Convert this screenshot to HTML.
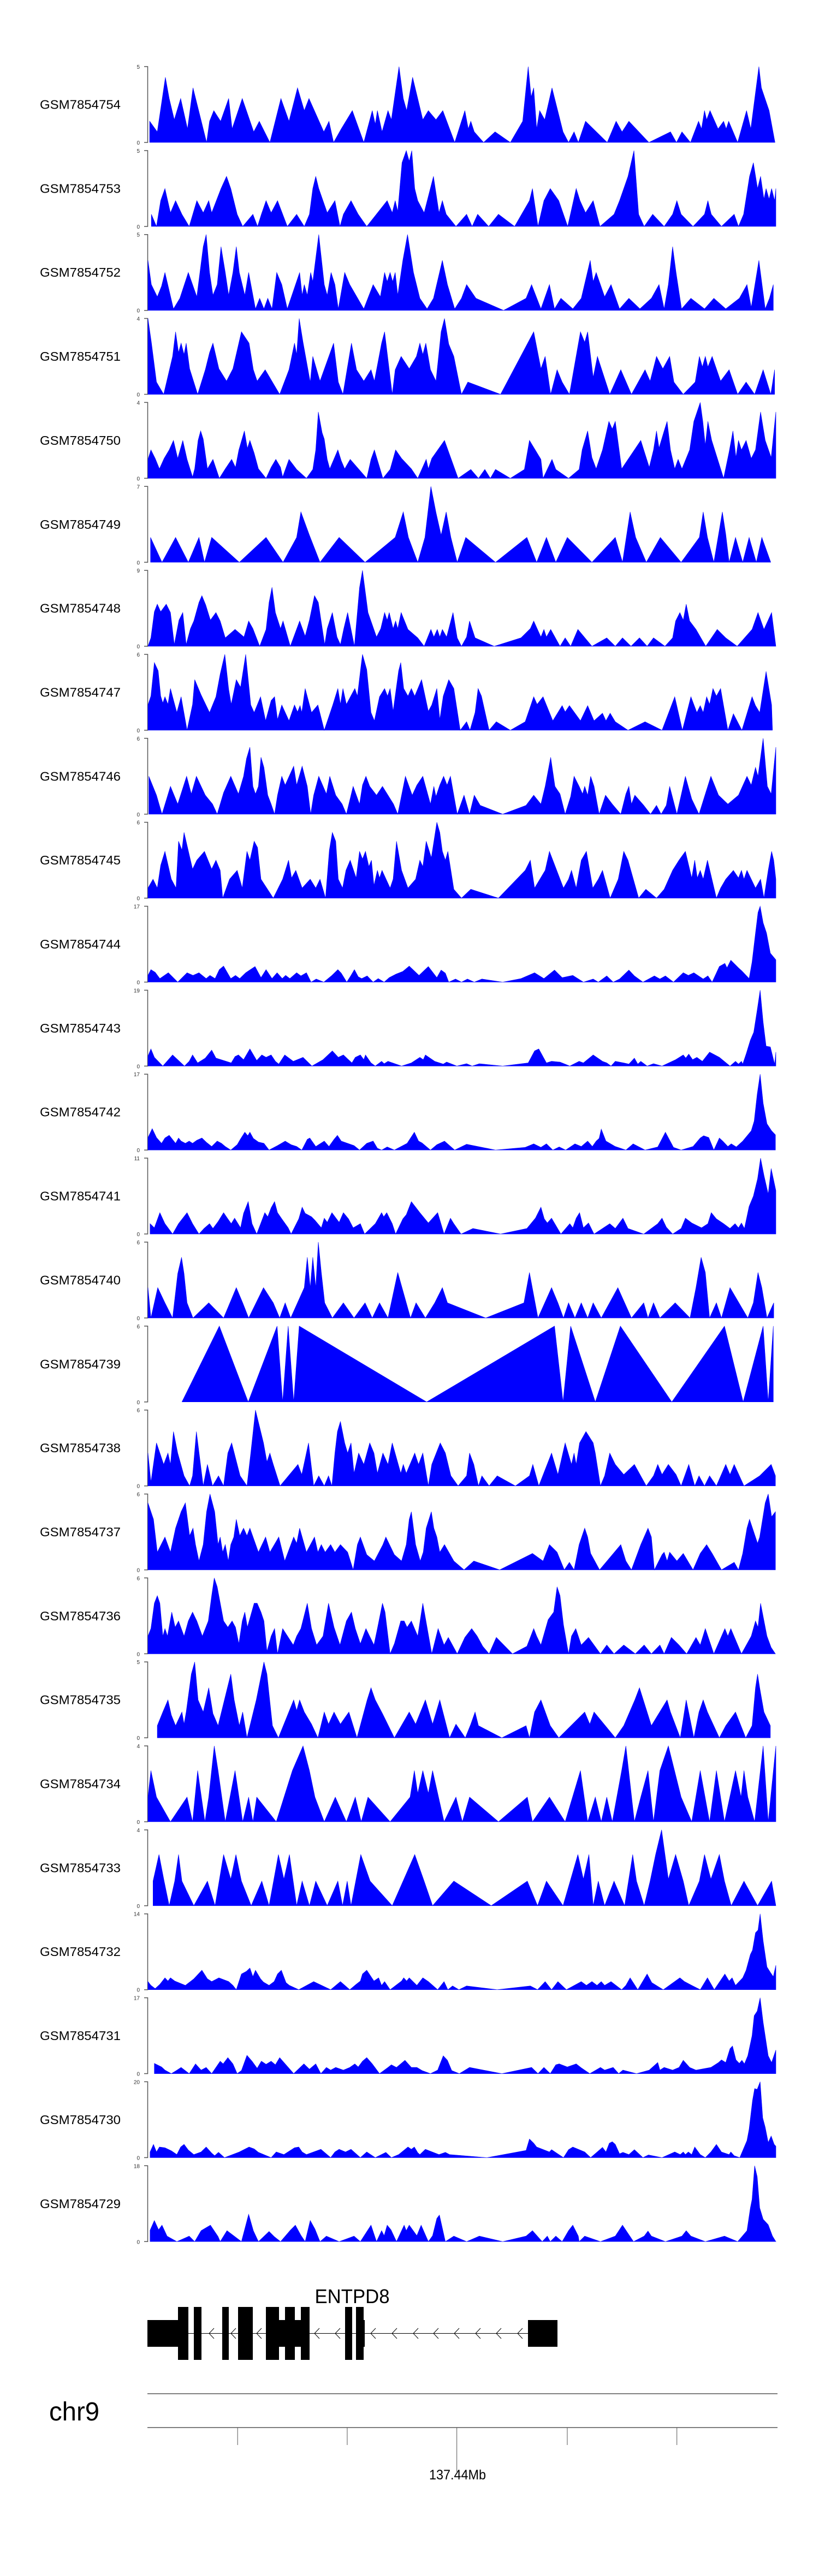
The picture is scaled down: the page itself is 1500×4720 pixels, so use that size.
<!DOCTYPE html>
<html><head><meta charset="utf-8">
<style>
html,body{margin:0;padding:0;background:#fff;}
svg{display:block;}
text{font-family:"Liberation Sans",Arial,sans-serif;}
</style></head>
<body>
<svg id="chart" width="1500" height="4720" viewBox="0 0 1500 4720" xmlns="http://www.w3.org/2000/svg">
<g id="tracks"></g>
<g id="gene">
  <text x="645" y="4220" font-size="36" text-anchor="middle" textLength="137" lengthAdjust="spacingAndGlyphs">ENTPD8</text>
  <line x1="270" y1="4275.5" x2="967" y2="4275.5" stroke="#000" stroke-width="1"/>
  <g fill="none" stroke="#000" stroke-width="1" id="chev"></g>
  <rect x="270" y="4251" width="56" height="49" fill="#000"/>
  <rect x="326" y="4227" width="19" height="97" fill="#000"/>
  <rect x="355" y="4227" width="14" height="97" fill="#000"/>
  <rect x="407" y="4227" width="12" height="97" fill="#000"/>
  <rect x="436" y="4227" width="27" height="97" fill="#000"/>
  <rect x="487" y="4251" width="80" height="49" fill="#000"/>
  <rect x="487" y="4227" width="24" height="97" fill="#000"/>
  <rect x="522" y="4227" width="18" height="97" fill="#000"/>
  <rect x="551" y="4227" width="16" height="97" fill="#000"/>
  <rect x="632" y="4227" width="13" height="97" fill="#000"/>
  <rect x="652" y="4227" width="14" height="97" fill="#000"/>
  <rect x="652" y="4251" width="16" height="49" fill="#000"/>
  <rect x="967" y="4251" width="54" height="49" fill="#000"/>
</g>
<g id="ideo">
  <text x="90" y="4435" font-size="48" textLength="92" lengthAdjust="spacingAndGlyphs">chr9</text>
  <line x1="270" y1="4386" x2="1424" y2="4386" stroke="#555" stroke-width="1.5"/>
  <line x1="270" y1="4448" x2="1424" y2="4448" stroke="#555" stroke-width="1.5"/>
  <g id="gticks"></g>
  <text x="838" y="4543" font-size="25" text-anchor="middle" textLength="104" lengthAdjust="spacingAndGlyphs">137.44Mb</text>
</g>
</svg>
<script>
const sampleNames = ["GSM7854754","GSM7854753","GSM7854752","GSM7854751","GSM7854750","GSM7854749","GSM7854748","GSM7854747","GSM7854746","GSM7854745","GSM7854744","GSM7854743","GSM7854742","GSM7854741","GSM7854740","GSM7854739","GSM7854738","GSM7854737","GSM7854736","GSM7854735","GSM7854734","GSM7854733","GSM7854732","GSM7854731","GSM7854730","GSM7854729"];
const trackMax = [5,5,5,4,4,7,9,6,6,6,17,19,17,11,6,6,6,6,6,5,4,4,14,17,20,18];
const genomeDomain = [40,1518];
const genomeTicks = [251,509,767,1027,1285];

const s754=[[44,1.4],[62,.7],[81,4.3],[90,2.9],[102,1.5],[117,2.9],[133,.9],[146,3.6],[178,0],[185,1.4],[195,2.1],[211,1.4],[230,2.9],[238,.9],[262,2.9],[289,.7],[302,1.4],[327,0],[353,2.9],[372,1.4],[392,3.6],[408,2.1],[419,2.9],[454,.7],[466,1.4],[477,0],[495,.9],[521,2.1],[548,0],[568,2.1],[575,1.2],[580,2.1],[591,.7],[605,2.1],[613,1.5],[631,5],[641,2.9],[649,2.1],[663,4.3],[687,1.5],[700,2.1],[718,1.5],[734,2.1],[762,0],[786,2.1],[794,.9],[800,1.4],[808,.7],[830,0],[857,.7],[893,0],[922,1.4],[935,5],[942,3.0],[948,3.6],[955,.9],[962,2.1],[974,1.5],[991,3.6],[1017,.7],[1030,0],[1043,.7],[1053,0],[1070,1.4],[1121,0],[1142,1.4],[1156,.7],[1172,1.4],[1219,0],[1270,.7],[1284,0],[1297,.7],[1317,0],[1336,1.4],[1343,.9],[1350,2.1],[1355,1.5],[1363,2.1],[1382,.9],[1395,1.4],[1401,.9],[1407,1.4],[1428,0],[1449,2.1],[1459,.9],[1478,5],[1484,3.6],[1502,2.1],[1516,0]];
const s753=[[48,.8],[60,0],[70,1.7],[80,2.5],[93,.9],[105,1.7],[120,.8],[137,0],[155,1.7],[170,.9],[183,1.7],[190,.9],[212,2.5],[225,3.3],[235,2.5],[250,.8],[263,0],[287,.8],[298,0],[307,.8],[318,1.7],[330,.9],[345,1.7],[368,0],[390,.8],[408,0],[420,.8],[428,2.5],[435,3.3],[442,2.5],[462,.9],[480,1.7],[492,0],[500,.8],[518,1.7],[535,.8],[555,0],[603,1.7],[615,.9],[622,1.7],[628,1.0],[638,4.2],[648,5],[655,4.3],[661,5],[668,2.5],[675,1.7],[690,.9],[712,3.3],[725,.9],[733,1.7],[742,.8],[765,0],[790,.8],[803,0],[816,.8],[842,0],[865,.8],[903,0],[938,1.7],[945,2.5],[958,0],[972,1.7],[987,2.5],[1007,1.7],[1028,0],[1048,2.5],[1057,1.7],[1070,.9],[1088,1.7],[1104,0],[1137,.8],[1150,1.7],[1170,3.3],[1184,5],[1195,.8],[1208,0],[1228,.8],[1255,0],[1275,.8],[1285,1.7],[1295,.8],[1323,0],[1350,.8],[1358,1.7],[1366,.8],[1390,0],[1420,.8],[1430,0],[1442,.8],[1456,3.3],[1465,4.2],[1475,2.5],[1482,3.3],[1490,1.8],[1495,2.5],[1502,1.8],[1508,2.5],[1515,1.7],[1518,2.5]];
const s752=[[40,3.3],[48,1.7],[62,.9],[72,1.6],[80,2.5],[100,.1],[115,.8],[135,2.5],[155,.9],[170,4.2],[177,5],[185,2.5],[193,1.0],[203,1.7],[212,4.2],[222,2.5],[230,1.0],[240,2.5],[248,4.2],[255,2.5],[268,1.0],[277,2.5],[293,.1],[303,.8],[313,.1],[322,.8],[332,.1],[343,2.5],[355,1.7],[368,.1],[397,2.5],[403,1.0],[408,1.7],[415,1.0],[423,2.5],[428,1.9],[442,5],[455,1.7],[462,1.0],[471,2.5],[480,1.7],[488,.1],[503,2.5],[515,1.7],[548,.1],[570,1.7],[587,.9],[597,2.5],[603,1.9],[610,2.5],[616,1.9],[622,2.5],[628,1.0],[640,3.3],[651,5],[665,2.5],[680,.8],[697,.1],[712,.8],[733,3.3],[745,1.7],[762,.1],[778,.8],[790,1.7],[812,.8],[877,0],[930,.8],[943,1.7],[965,.1],[985,1.7],[997,.1],[1012,.8],[1040,.1],[1060,.8],[1081,3.3],[1088,1.9],[1095,2.5],[1115,.9],[1130,1.7],[1150,.1],[1172,.8],[1198,.1],[1225,.8],[1243,1.7],[1255,.1],[1265,1.7],[1275,4.2],[1283,2.5],[1296,.1],[1318,.8],[1350,.1],[1372,.8],[1400,.1],[1432,.8],[1450,1.7],[1460,.2],[1478,3.3],[1493,.1],[1503,.8],[1512,1.7]];
const s751=[[40,4],[48,2.75],[60,.65],[77,0],[98,2.0],[105,3.3],[112,2.2],[118,2.7],[125,2.1],[130,2.7],[138,1.35],[157,0],[175,1.3],[185,2.2],[193,2.7],[207,1.35],[225,.7],[240,1.35],[260,3.3],[278,2.7],[288,1.3],[297,.7],[316,1.3],[350,0],[372,1.3],[385,2.7],[390,2.1],[396,4],[405,2.75],[422,.65],[428,2.0],[445,.7],[477,2.7],[488,.65],[499,0],[519,2.7],[531,1.3],[548,.7],[565,1.3],[573,.7],[590,2.7],[597,3.3],[615,0],[622,1.3],[636,2.0],[655,1.35],[672,2.0],[680,2.7],[687,2.1],[694,2.7],[705,1.3],[718,.7],[730,3.3],[738,4],[748,2.65],[760,2.0],[778,0],[793,.65],[870,0],[948,3.3],[965,1.35],[975,2.0],[988,0],[1003,1.3],[1015,.65],[1032,0],[1058,3.3],[1068,2.75],[1075,3.3],[1088,.9],[1098,2.0],[1127,0],[1153,1.3],[1178,0],[1210,1.3],[1222,.7],[1237,2.0],[1252,1.35],[1268,2.0],[1278,.65],[1300,0],[1328,.65],[1338,2.0],[1345,1.45],[1352,2.0],[1358,1.45],[1368,2.0],[1388,.7],[1408,1.3],[1428,0],[1448,.65],[1468,0],[1488,1.3],[1506,0],[1515,1.3]];
const s750=[[40,1.0],[47,1.5],[57,1.05],[67,.5],[78,1.05],[90,1.5],[100,2],[110,1.05],[122,2],[132,1.0],[145,.07],[150,.5],[158,2],[164,2.5],[170,2.07],[180,.5],[193,1],[208,0],[222,.5],[237,1],[246,.58],[254,1.5],[267,2.5],[274,1.58],[280,2],[290,1.33],[300,.5],[318,0],[330,.58],[341,1],[352,.58],[357,.07],[372,1],[390,.47],[413,0],[428,.47],[435,1.5],[441,3.5],[450,2.4],[455,2.07],[462,1],[468,.5],[487,1.5],[495,.93],[503,.5],[516,1],[555,0],[565,1],[573,1.5],[593,0],[610,.47],[623,1.5],[637,1.05],[660,.5],[675,0],[695,1],[700,.5],[708,1.05],[738,2],[770,0],[800,.47],[818,0],[833,.47],[846,0],[858,.47],[893,0],[926,.47],[938,2],[965,1],[970,0],[991,1],[1000,.47],[1030,0],[1055,.47],[1062,1.5],[1075,2.5],[1085,1.1],[1095,.5],[1110,1.5],[1115,2],[1125,3],[1133,2.6],[1140,3],[1155,.5],[1200,2],[1220,.58],[1230,1.5],[1237,2.5],[1243,1.6],[1255,2.5],[1262,3],[1270,1.5],[1280,.5],[1288,1],[1297,.5],[1315,1.5],[1325,3],[1340,4],[1346,3],[1352,1.75],[1358,3],[1367,2],[1395,0],[1408,1.4],[1417,2.5],[1424,1.1],[1430,2],[1437,1.5],[1448,2],[1460,1.05],[1470,1.5],[1482,3.5],[1493,2],[1507,1.1],[1518,3.5]];
const s749=[[46,2.3],[73,0],[105,2.3],[135,0],[160,2.3],[173,0],[190,2.3],[255,0],[318,2.3],[358,0],[390,2.3],[400,4.65],[420,2.5],[445,0],[490,2.3],[551,0],[622,2.3],[641,4.65],[653,2.3],[675,0],[692,2.3],[706,7],[718,4.6],[730,2.5],[742,4.65],[753,2.3],[768,0],[788,2.3],[858,0],[932,2.3],[955,0],[978,2.3],[1000,0],[1027,2.3],[1085,0],[1140,2.3],[1157,0],[1175,4.65],[1188,2.3],[1213,0],[1246,2.3],[1295,0],[1338,2.3],[1347,4.65],[1357,2.3],[1372,0],[1392,4.65],[1400,2.6],[1408,0],[1423,2.3],[1440,0],[1455,2.3],[1472,0],[1485,2.3],[1506,0]];
const s748=[[40,0],[47,1.0],[55,4.1],[62,5.0],[70,4.1],[83,5.0],[93,4.0],[102,.2],[113,3.1],[122,4.0],[130,.2],[140,2.1],[148,3.0],[160,5.2],[167,6.0],[176,4.9],[187,3.1],[200,4.0],[210,3.0],[222,1.0],[245,2.0],[266,1.1],[277,3.0],[287,2.1],[303,0],[318,2.0],[325,5.2],[332,7.0],[340,4.0],[352,2.1],[358,3.0],[375,0],[397,3.0],[410,1.2],[420,3.1],[432,6.0],[441,5.2],[456,.2],[462,2.1],[474,4.0],[485,1.1],[493,.2],[501,2.1],[510,4.0],[518,2.0],[526,0],[538,6.96],[545,9],[558,4.0],[578,1.1],[588,2.1],[597,4.0],[603,3.1],[608,4.0],[617,2.1],[623,3.0],[628,2.1],[636,4.0],[652,2.0],[675,1.0],[690,0],[706,2.0],[713,1.1],[721,2.0],[727,1.1],[733,2.0],[743,1.1],[758,4.0],[768,1.0],[778,0],[790,1.1],[797,3.0],[810,1.0],[855,0],[918,1.0],[940,2.1],[948,3.0],[965,1.1],[972,2.0],[978,1.1],[988,2.0],[1010,0],[1022,1.0],[1035,0],[1052,2.0],[1085,0],[1120,1.0],[1140,0],[1157,1.0],[1177,0],[1197,1.0],[1215,0],[1230,1.0],[1257,0],[1275,1.0],[1282,3.0],[1292,4.0],[1300,3.1],[1307,5.0],[1315,3.0],[1330,2.0],[1353,0],[1380,2.0],[1400,1.0],[1427,0],[1462,2.0],[1476,4.0],[1490,2.0],[1508,4.0],[1518,0]];
const s747=[[40,2.0],[47,2.7],[55,5.35],[64,4.7],[70,2.7],[75,2.15],[80,2.65],[87,2.05],[93,3.3],[100,2.4],[108,1.4],[118,2.65],[132,0],[145,2.05],[150,4.0],[165,2.8],[185,1.4],[200,2.65],[210,4.45],[216,5.3],[221,6],[230,3.25],[236,2.05],[248,4.0],[258,3.4],[270,6],[282,2.0],[290,1.4],[305,2.65],[317,.75],[330,2.35],[338,2.65],[345,.85],[355,2.0],[372,.75],[385,2.0],[392,1.45],[398,1.95],[402,1.4],[410,3.3],[425,1.4],[440,2.0],[455,0],[475,2.0],[487,3.3],[493,2.05],[499,3.3],[507,2.05],[527,3.3],[533,2.7],[541,4.95],[545,6],[555,4.8],[565,1.4],[573,.75],[585,2.65],[597,3.3],[604,2.7],[610,3.3],[617,1.5],[630,4.7],[635,5.35],[642,3.3],[652,2.7],[660,3.3],[668,2.7],[684,4.0],[700,1.5],[708,2.0],[720,3.3],[727,.85],[735,2.7],[748,4.0],[760,3.3],[775,0],[790,.67],[798,0],[810,1.4],[817,3.3],[825,2.7],[843,0],[860,.67],[893,0],[928,.67],[948,2.65],[956,2.05],[970,2.65],[993,.75],[1015,1.95],[1022,1.45],[1032,1.95],[1058,.75],[1075,1.95],[1090,.75],[1110,1.35],[1118,.75],[1128,1.35],[1140,.67],[1170,0],[1210,.67],[1250,0],[1280,2.65],[1298,0],[1318,2.65],[1332,1.4],[1340,1.95],[1347,1.4],[1355,2.65],[1362,2.05],[1370,3.3],[1378,2.7],[1388,3.3],[1405,0],[1418,1.3],[1438,0],[1462,2.65],[1470,1.95],[1480,1.4],[1495,4.65],[1508,2.0],[1510,0]];
const s746=[[42,3.0],[60,1.5],[73,0],[93,2.2],[110,.8],[131,3.0],[142,1.6],[154,3.0],[175,1.5],[192,.8],[203,0],[218,1.7],[235,3.0],[253,1.6],[265,3.0],[272,4.4],[280,5.3],[287,2.2],[293,1.6],[300,2.2],[306,4.5],[313,3.7],[322,1.5],[330,.8],[338,0],[345,1.5],[355,3.0],[363,2.3],[383,3.8],[390,2.3],[403,3.8],[415,2.2],[423,0],[430,1.5],[442,3.0],[460,1.6],[468,3.0],[482,1.5],[497,.8],[507,0],[523,2.2],[538,.8],[545,2.3],[553,3.0],[562,2.2],[578,1.5],[592,2.2],[605,1.5],[618,.8],[628,0],[637,1.5],[646,3.0],[662,1.5],[673,2.3],[687,3.0],[705,.8],[713,2.2],[718,1.4],[727,2.3],[736,3.0],[744,2.3],[752,3.0],[768,0],[784,1.5],[797,0],[808,1.5],[822,.7],[875,0],[930,.7],[948,1.5],[965,.8],[975,2.2],[988,4.5],[998,2.2],[1010,1.6],[1022,0],[1035,1.4],[1043,3.0],[1055,2.2],[1063,1.6],[1068,2.2],[1075,1.5],[1082,3.0],[1090,2.2],[1102,0],[1117,1.5],[1133,.8],[1153,0],[1165,1.6],[1172,2.2],[1178,.8],[1186,1.5],[1207,.7],[1223,0],[1237,.7],[1248,0],[1260,.7],[1268,2.2],[1285,0],[1305,3.0],[1320,1.2],[1337,0],[1352,1.6],[1365,3.0],[1383,1.5],[1405,.8],[1430,1.5],[1450,3.0],[1460,2.3],[1470,3.7],[1476,3.0],[1488,6.0],[1498,2.2],[1507,1.6],[1518,5.3]];
const s745=[[40,.8],[52,1.5],[62,.8],[70,2.6],[80,3.7],[95,1.5],[106,.8],[112,4.5],[120,3.8],[125,5.2],[145,2.3],[155,3.0],[173,3.7],[190,2.3],[200,3.0],[210,2.2],[216,0],[232,1.5],[250,2.2],[262,.8],[273,3.7],[280,3.0],[290,4.5],[298,4.0],[306,1.5],[335,0],[357,1.5],[371,3.0],[378,1.6],[388,2.2],[403,.8],[422,1.5],[435,.8],[445,1.5],[458,0],[467,3.8],[474,5.2],[482,4.5],[488,1.5],[498,.8],[506,2.2],[516,3.0],[530,1.6],[538,3.7],[545,3.1],[552,3.7],[560,2.5],[566,3.0],[572,1.0],[580,2.2],[585,1.6],[591,2.2],[610,.8],[617,1.5],[625,4.5],[637,2.2],[652,.8],[670,1.5],[680,3.0],[687,2.5],[695,4.5],[707,3.2],[720,6.0],[727,5.2],[733,3.7],[740,3.0],[746,3.7],[760,.7],[778,0],[800,.7],[865,0],[928,2.2],[940,3.0],[950,.8],[975,2.2],[985,3.7],[993,3.0],[1018,.8],[1030,1.5],[1037,2.2],[1048,.8],[1060,3.0],[1072,3.7],[1087,.8],[1100,1.5],[1110,2.2],[1128,0],[1147,1.5],[1160,3.7],[1170,3.0],[1195,0],[1212,.7],[1237,0],[1255,.7],[1275,2.2],[1290,3.0],[1305,3.7],[1320,1.6],[1327,3.0],[1333,1.6],[1340,2.2],[1347,1.5],[1357,3.0],[1378,0],[1388,.8],[1400,1.5],[1418,2.2],[1430,1.6],[1437,2.2],[1443,1.5],[1450,2.2],[1470,.8],[1482,1.5],[1490,0],[1500,2.2],[1508,3.7],[1513,3.0],[1518,1.5]];
const s744=[[40,1.5],[47,2.8],[57,2.2],[68,.8],[88,2.1],[110,0],[132,2.1],[146,1.5],[160,2.1],[177,.8],[186,1.5],[198,.8],[208,2.8],[218,3.6],[235,.8],[246,1.5],[256,.8],[270,2.1],[292,3.5],[306,1.0],[318,2.8],[332,.8],[344,2.1],[356,.8],[364,1.5],[374,.8],[390,2.1],[400,1.4],[413,2.1],[424,0],[436,.7],[454,0],[473,1.5],[487,2.8],[495,2.0],[508,0],[518,1.5],[526,2.8],[535,1.2],[543,.8],[556,1.4],[570,0],[582,.8],[596,0],[608,1.0],[624,1.8],[640,2.4],[655,3.6],[678,1.5],[700,3.5],[720,1.0],[730,2.7],[740,2.0],[748,0],[764,.7],[778,0],[792,.7],[808,0],[826,.7],[875,0],[918,.8],[950,2.1],[972,.8],[997,2.7],[1015,1.0],[1040,1.5],[1065,0],[1088,.7],[1100,0],[1120,1.4],[1135,0],[1150,.7],[1172,2.7],[1185,1.4],[1205,0],[1232,1.4],[1245,.7],[1258,1.4],[1277,0],[1300,2.1],[1312,1.5],[1325,2.1],[1347,.7],[1358,1.4],[1368,0],[1385,3.5],[1398,4.2],[1403,3.2],[1412,4.9],[1430,3.2],[1438,2.5],[1455,.8],[1462,4.5],[1470,11],[1476,15.6],[1481,17],[1488,13.3],[1496,11],[1505,6.5],[1518,5.0]];
const s743=[[40,2.5],[47,4.3],[55,2.2],[75,0],[98,2.8],[126,0],[137,1.2],[145,2.8],[157,.8],[175,2.0],[190,4.0],[200,2.0],[236,.8],[245,2.4],[253,2.8],[265,1.6],[280,4.3],[296,1.4],[308,2.8],[318,2.2],[330,2.8],[340,1.2],[348,.5],[362,2.8],[382,1.2],[405,2.2],[426,0],[452,1.6],[474,3.8],[488,2.2],[500,2.8],[520,.8],[528,2.2],[540,2.8],[548,1.6],[552,2.8],[565,.8],[575,0],[590,1.2],[596,.6],[605,1.2],[637,0],[660,.8],[680,2.2],[688,1.6],[693,2.8],[715,1.2],[735,.5],[743,1.0],[767,0],[790,.6],[803,0],[820,.6],[875,0],[935,.8],[950,3.8],[960,4.3],[978,.8],[990,1.2],[1010,1.0],[1033,0],[1055,1.2],[1065,.8],[1088,2.8],[1110,1.2],[1120,.8],[1130,0],[1140,1.2],[1160,.8],[1172,.5],[1185,2.0],[1193,.5],[1200,1.2],[1215,0],[1230,.6],[1250,0],[1282,1.6],[1300,2.8],[1306,2.0],[1313,3.0],[1322,1.6],[1332,2.2],[1345,1.2],[1362,3.5],[1385,2.2],[1410,0],[1423,1.2],[1430,.5],[1437,1.2],[1440,.5],[1448,3.0],[1458,6.5],[1466,8.5],[1474,14],[1481,19],[1488,11],[1495,5.0],[1505,4.8],[1515,.5],[1518,3.5]];
const s742=[[40,2.8],[50,4.8],[60,2.8],[72,1.5],[80,2.7],[90,3.3],[105,1.5],[112,2.7],[118,2.0],[128,1.5],[137,2.0],[145,1.5],[155,2.2],[167,2.7],[178,1.7],[190,.8],[203,2.0],[213,1.5],[222,.8],[235,0],[250,1.2],[258,2.5],[268,4.0],[275,3.2],[280,4.0],[288,2.6],[300,1.8],[313,1.5],[325,0],[345,1.0],[363,2.0],[377,1.2],[390,.8],[402,0],[415,2.4],[421,2.7],[435,.8],[455,2.0],[466,.8],[478,2.4],[486,3.3],[495,2.0],[510,1.5],[525,1.0],[538,0],[555,1.5],[570,2.0],[580,.4],[590,0],[603,.7],[620,0],[650,1.5],[667,4.0],[677,2.0],[685,1.6],[705,0],[720,1.2],[738,2.0],[762,0],[790,1.3],[858,0],[928,.6],[948,1.4],[965,.6],[978,1.4],[993,0],[1008,.7],[1023,0],[1045,1.4],[1060,.8],[1075,2.0],[1086,.8],[1095,2.0],[1102,2.6],[1107,4.7],[1118,2.0],[1140,.8],[1165,0],[1182,1.4],[1210,0],[1240,.7],[1258,4.0],[1277,.6],[1295,0],[1323,.8],[1340,2.7],[1348,3.2],[1360,2.8],[1372,0],[1385,2.7],[1393,2.0],[1405,.8],[1413,1.4],[1425,.7],[1440,2.0],[1460,4.3],[1467,6.5],[1474,12.5],[1481,17],[1488,10.5],[1497,5.9],[1508,4.3],[1517,3.4]];
const s741=[[45,1.5],[55,.9],[68,3.1],[80,1.5],[98,0],[112,1.5],[132,3.1],[145,1.5],[160,0],[172,.8],[185,1.5],[193,.8],[205,1.8],[218,3.1],[228,2.2],[236,1.5],[244,2.3],[258,.9],[265,3.0],[276,4.7],[285,1.5],[296,0],[315,3.1],[322,2.5],[330,3.8],[338,4.7],[345,3.1],[355,2.2],[370,.9],[377,0],[395,2.2],[403,3.9],[410,3.0],[425,2.5],[433,2.0],[448,.9],[455,2.3],[462,1.7],[473,3.1],[490,1.7],[500,3.1],[512,2.2],[523,.9],[540,1.5],[550,0],[575,1.5],[590,3.1],[595,2.5],[602,3.1],[615,1.5],[623,0],[640,2.2],[648,2.8],[660,4.7],[680,3.1],[700,1.6],[722,3.1],[737,0],[752,2.3],[760,1.5],[777,0],[805,.8],[870,0],[932,.8],[952,2.3],[965,3.9],[973,2.2],[980,1.6],[990,2.3],[1012,0],[1033,1.5],[1040,.9],[1048,2.3],[1056,3.1],[1065,.9],[1077,1.6],[1090,0],[1127,1.5],[1140,.8],[1158,2.3],[1170,.8],[1207,0],[1240,1.5],[1250,2.3],[1260,1.0],[1275,0],[1295,.8],[1305,2.3],[1320,1.6],[1343,.9],[1358,1.5],[1366,3.1],[1378,2.2],[1395,1.5],[1410,.8],[1422,1.5],[1430,.9],[1437,1.6],[1444,.8],[1455,4.0],[1465,5.5],[1475,8.0],[1482,11],[1490,8.5],[1500,5.8],[1507,9.5],[1518,6.3]];
const s740=[[40,2.4],[47,0],[63,2.4],[80,1.2],[98,0],[110,3.5],[119,4.8],[125,3.5],[132,1.2],[146,0],[183,1.2],[218,0],[248,2.4],[263,1.2],[277,0],[312,2.4],[335,1.2],[350,0],[363,1.2],[376,0],[408,2.4],[415,4.8],[422,2.4],[428,4.8],[435,2.4],[441,6.0],[448,3.6],[456,1.2],[474,0],[500,1.2],[525,0],[551,1.2],[568,0],[585,1.2],[605,0],[628,3.6],[648,1.2],[658,0],[671,1.2],[693,0],[715,1.2],[733,2.4],[745,1.2],[835,0],[925,1.2],[938,3.6],[958,0],[990,2.4],[1005,1.2],[1018,0],[1030,1.2],[1045,0],[1060,1.2],[1075,0],[1088,1.2],[1107,0],[1146,2.4],[1178,0],[1207,1.2],[1217,0],[1230,1.2],[1245,0],[1281,1.2],[1316,0],[1330,2.4],[1342,4.8],[1352,3.6],[1362,0],[1378,1.2],[1390,0],[1410,2.4],[1452,0],[1465,1.2],[1476,3.6],[1485,2.4],[1497,0],[1513,1.2]];
const s739=[[120,0],[208,6],[276,0],[344,6],[357,0],[370,6],[383,0],[396,6],[696,0],[997,6],[1017,0],[1035,6],[1093,0],[1152,6],[1273,0],[1397,6],[1441,0],[1488,6],[1500,0],[1512,6]];
const s738=[[40,2.6],[47,.3],[60,3.4],[77,1.7],[87,2.6],[93,1.7],[100,4.3],[110,2.6],[125,.8],[138,0],[145,.8],[154,4.3],[170,0],[180,1.7],[192,0],[206,.8],[218,0],[228,2.6],[237,3.4],[257,.8],[273,0],[282,2.6],[293,6],[312,3.4],[320,1.9],[327,2.6],[335,1.7],[351,0],[393,1.7],[402,.9],[418,3.4],[430,0],[442,.8],[455,0],[465,.8],[473,0],[480,2.6],[486,4.3],[493,5.1],[503,3.4],[510,2.6],[518,3.4],[525,1.0],[536,2.6],[548,1.7],[562,3.4],[572,2.6],[580,1.0],[593,2.6],[605,1.7],[615,3.4],[635,1.0],[641,1.7],[648,1.0],[668,2.6],[677,1.7],[687,2.6],[700,0],[708,1.7],[728,3.4],[740,2.6],[753,.8],[770,0],[790,.8],[797,2.6],[807,1.7],[818,0],[826,.8],[843,0],[862,.8],[905,0],[938,.8],[946,1.7],[960,0],[990,2.6],[1005,.9],[1022,3.4],[1037,1.7],[1043,2.6],[1048,1.7],[1056,3.4],[1071,4.3],[1088,3.4],[1093,2.6],[1105,0],[1115,.8],[1127,2.6],[1140,1.7],[1160,.9],[1185,1.7],[1213,0],[1230,.8],[1240,1.7],[1250,.9],[1265,1.7],[1283,.9],[1295,0],[1313,1.7],[1327,0],[1337,.8],[1350,0],[1362,.8],[1378,0],[1400,1.7],[1410,.9],[1420,1.7],[1443,0],[1480,.8],[1507,1.7],[1517,.8]];
const s737=[[40,5.3],[47,4.6],[53,4.0],[62,1.4],[80,2.6],[93,1.4],[105,3.3],[118,4.6],[128,5.3],[138,2.7],[146,3.3],[152,2.0],[160,.7],[170,2.0],[178,4.6],[186,6.0],[197,4.6],[205,2.0],[210,2.6],[216,1.4],[222,2.0],[229,.7],[235,2.0],[242,2.6],[248,4.0],[256,2.7],[265,3.3],[273,2.7],[280,3.3],[300,1.4],[317,2.6],[327,1.4],[348,2.6],[362,.7],[383,2.6],[390,2.1],[397,3.3],[413,1.4],[432,2.6],[440,1.4],[448,2.0],[457,1.4],[470,2.0],[480,1.4],[493,2.0],[510,1.4],[523,0],[533,2.0],[540,2.6],[555,1.2],[573,.7],[593,2.0],[600,2.6],[620,1.2],[637,.7],[648,2.0],[655,4.0],[660,4.6],[670,2.0],[681,.7],[688,1.4],[695,3.3],[707,4.6],[713,3.3],[720,2.6],[727,1.4],[738,2.0],[760,.7],[784,0],[807,.7],[868,0],[945,1.3],[970,.7],[985,2.0],[1003,1.4],[1020,0],[1032,.6],[1043,0],[1055,2.0],[1068,3.3],[1075,2.6],[1082,1.3],[1103,0],[1153,2.0],[1165,.7],[1178,0],[1200,2.0],[1217,3.3],[1225,2.6],[1232,0],[1250,1.2],[1255,1.4],[1262,.7],[1268,1.4],[1285,.7],[1300,1.3],[1323,0],[1340,1.3],[1355,2.0],[1368,1.3],[1390,0],[1420,.6],[1430,0],[1440,1.3],[1450,3.3],[1456,4.0],[1475,2.1],[1480,2.6],[1493,5.3],[1500,6.0],[1508,4.2],[1517,4.6]];
const s736=[[40,1.4],[47,2.0],[55,4.0],[62,4.6],[68,4.0],[75,1.4],[80,2.0],[86,1.4],[96,3.3],[104,2.1],[112,2.6],[125,1.4],[135,2.6],[145,3.3],[155,2.6],[168,1.4],[182,2.6],[190,4.6],[196,6.0],[203,5.3],[218,2.6],[228,2.1],[238,2.6],[246,2.1],[254,.8],[262,2.6],[268,3.3],[274,2.1],[290,4.0],[297,4.0],[306,3.3],[313,2.6],[320,.2],[330,1.4],[338,2.0],[345,0],[357,2.0],[382,.7],[390,1.4],[400,2.0],[415,4.0],[425,2.0],[437,.7],[452,1.4],[465,4.0],[478,2.1],[492,.7],[507,2.6],[519,3.3],[528,2.0],[540,.8],[553,2.0],[572,.7],[580,2.0],[592,4.0],[598,3.3],[610,0],[620,.8],[635,2.6],[643,2.6],[650,2.1],[660,2.6],[675,1.4],[687,4.0],[708,0],[723,2.0],[737,.7],[747,1.3],[768,0],[786,1.3],[802,2.0],[815,1.4],[828,.6],[843,0],[860,1.3],[898,0],[932,.6],[948,2.0],[955,1.4],[965,.7],[982,2.7],[995,3.3],[1003,5.3],[1010,4.6],[1018,2.3],[1030,0],[1037,1.4],[1047,2.0],[1060,.7],[1077,1.3],[1105,0],[1120,.7],[1137,0],[1160,.7],[1187,0],[1208,.7],[1225,0],[1245,.7],[1255,0],[1272,1.3],[1290,.7],[1308,0],[1330,1.3],[1340,.7],[1352,2.0],[1372,0],[1398,2.0],[1405,1.4],[1412,2.0],[1437,0],[1460,1.4],[1470,2.6],[1476,2.1],[1482,4.0],[1497,1.4],[1507,.5],[1517,0]];
const s735=[[62,.8],[75,1.7],[87,2.5],[95,1.5],[105,.8],[120,1.7],[125,.9],[130,1.7],[142,4.2],[150,5.0],[158,2.5],[170,1.7],[183,3.3],[193,1.6],[205,.8],[227,3.3],[235,4.2],[243,2.5],[255,.8],[263,1.7],[273,0],[295,2.5],[313,5.0],[320,4.2],[333,.8],[347,0],[383,2.5],[390,1.8],[397,2.5],[408,1.7],[425,.9],[440,0],[455,1.7],[465,.9],[478,1.7],[493,.9],[513,1.7],[532,0],[556,2.5],[565,3.3],[575,2.5],[592,1.6],[620,0],[655,1.7],[670,.9],[693,2.5],[710,.9],[727,2.5],[750,0],[765,.9],[787,0],[800,.9],[810,1.7],[818,.8],[873,0],[930,.8],[938,0],[950,1.7],[965,2.5],[987,.8],[1007,0],[1068,1.7],[1080,.9],[1090,1.7],[1140,0],[1160,.8],[1186,2.5],[1197,3.3],[1225,.8],[1262,2.5],[1270,1.7],[1293,0],[1307,2.5],[1325,0],[1337,1.7],[1347,2.5],[1357,1.7],[1385,0],[1400,.8],[1423,1.7],[1447,0],[1462,.8],[1470,3.3],[1475,4.2],[1480,3.3],[1490,1.7],[1505,.8]];
const s734=[[40,1.3],[47,2.7],[60,1.3],[93,0],[132,1.3],[145,0],[157,2.7],[174,0],[183,1.3],[196,4.0],[205,2.7],[222,0],[233,1.3],[245,2.7],[263,0],[277,1.3],[287,0],[296,1.3],[342,0],[380,2.7],[405,4.0],[420,2.7],[433,1.3],[455,0],[481,1.3],[507,0],[528,1.3],[542,0],[558,1.3],[610,0],[657,1.3],[667,2.7],[675,1.5],[687,2.7],[700,1.5],[710,2.7],[737,0],[765,1.3],[780,0],[797,1.3],[865,0],[933,1.3],[945,0],[985,1.3],[1022,0],[1058,2.7],[1075,0],[1093,1.3],[1107,0],[1120,1.3],[1133,0],[1155,2.7],[1165,4.0],[1185,0],[1200,1.3],[1217,2.7],[1230,0],[1245,2.7],[1265,4.0],[1295,1.3],[1320,0],[1340,2.7],[1362,0],[1378,2.7],[1397,0],[1423,2.7],[1436,1.3],[1443,2.7],[1452,1.3],[1468,0],[1488,4.0],[1500,0],[1518,4.0]];
const s733=[[52,1.3],[66,2.7],[78,1.3],[90,0],[103,1.3],[112,2.7],[120,1.3],[148,0],[180,1.3],[198,0],[218,2.7],[235,1.4],[247,2.7],[260,1.3],[283,0],[308,1.3],[325,0],[347,2.7],[360,1.4],[373,2.7],[390,0],[403,1.3],[420,0],[435,1.3],[462,0],[487,1.3],[498,0],[509,1.3],[518,0],[541,2.7],[563,1.3],[615,0],[668,2.7],[690,1.3],[710,0],[760,1.3],[848,0],[933,1.3],[957,0],[978,1.3],[1017,0],[1052,2.7],[1065,1.4],[1078,2.7],[1088,0],[1100,1.3],[1115,0],[1137,1.3],[1162,0],[1181,2.7],[1190,1.3],[1208,0],[1222,1.3],[1235,2.7],[1249,4.0],[1265,1.4],[1282,2.7],[1300,1.3],[1313,0],[1338,1.3],[1350,2.7],[1365,1.4],[1385,2.7],[1397,1.3],[1413,0],[1443,1.3],[1475,0],[1508,1.3],[1518,0]];
const s732=[[40,1.5],[47,.8],[57,.2],[68,1.0],[80,2.2],[87,1.6],[93,2.2],[103,1.6],[128,.8],[148,2.0],[167,3.6],[180,2.0],[190,1.5],[207,2.2],[230,1.5],[240,.8],[248,0],[260,2.9],[272,3.4],[280,4.0],[287,2.4],[293,3.6],[305,2.0],[312,1.4],[325,.8],[337,1.5],[345,2.9],[354,3.6],[365,1.3],[373,.8],[395,0],[430,1.5],[470,0],[493,1.5],[515,0],[530,1.0],[540,1.6],[545,2.9],[555,3.6],[572,1.6],[583,2.2],[590,.8],[597,1.5],[610,0],[637,1.6],[642,2.2],[649,1.6],[655,2.2],[673,.8],[687,2.2],[700,1.5],[722,0],[737,1.5],[746,0],[757,.7],[772,0],[790,.7],[862,0],[940,.7],[957,0],[975,1.5],[990,0],[1005,1.5],[1025,0],[1060,1.5],[1072,.8],[1085,1.5],[1097,.8],[1107,1.5],[1115,.8],[1130,1.5],[1155,0],[1165,.8],[1175,2.2],[1193,0],[1215,2.9],[1226,1.3],[1253,0],[1292,2.2],[1303,1.5],[1320,.8],[1340,0],[1357,2.2],[1373,0],[1398,2.9],[1408,1.6],[1415,2.2],[1423,.8],[1440,2.2],[1448,3.6],[1458,6.5],[1463,7.3],[1470,10.5],[1476,11.0],[1481,14],[1488,9.0],[1497,4.2],[1505,3.2],[1512,2.4],[1518,4.5]];
const s731=[[55,2.3],[72,1.5],[80,.8],[95,0],[107,.7],[118,1.4],[137,0],[152,2.2],[165,.8],[177,1.4],[190,0],[210,2.8],[217,2.2],[228,3.6],[240,2.2],[250,0],[260,.7],[273,4.1],[285,2.8],[297,1.2],[307,2.8],[318,2.1],[330,2.8],[340,2.0],[350,3.6],[383,0],[407,2.2],[420,1.0],[435,2.2],[447,0],[460,1.4],[470,.8],[482,1.4],[500,.8],[515,1.4],[527,2.2],[535,1.5],[545,2.8],[555,3.6],[568,2.2],[585,0],[605,1.4],[613,2.0],[625,1.4],[645,3.0],[660,1.4],[673,1.4],[685,.7],[705,0],[722,.8],[735,4.0],[745,3.0],[755,.7],[773,0],[797,1.4],[873,0],[943,1.4],[958,0],[972,1.4],[987,0],[1000,2.0],[1008,2.2],[1027,1.5],[1048,2.2],[1060,1.3],[1080,0],[1105,1.4],[1115,.8],[1135,1.4],[1148,0],[1158,.8],[1190,0],[1220,.8],[1240,2.5],[1245,.8],[1255,1.4],[1275,.8],[1290,1.4],[1300,3.0],[1315,1.4],[1330,.8],[1365,1.4],[1383,2.5],[1390,3.1],[1400,2.5],[1410,5.6],[1416,6.2],[1424,3.1],[1432,2.3],[1438,3.0],[1444,2.2],[1452,4.0],[1462,8.5],[1467,13],[1474,14],[1481,17],[1488,11.5],[1500,4.0],[1508,2.5],[1518,5.3]];
const s730=[[45,1.5],[53,3.5],[60,1.5],[67,2.8],[80,2.6],[95,1.8],[108,.8],[117,2.8],[125,3.5],[135,2.0],[148,.8],[165,1.5],[177,2.8],[190,1.2],[197,.5],[206,1.4],[220,0],[255,1.5],[278,2.8],[290,2.3],[300,1.4],[330,0],[342,1.5],[360,.8],[385,2.6],[395,2.8],[403,1.5],[413,.8],[447,2.2],[470,0],[480,1.5],[490,2.2],[505,1.5],[518,2.2],[540,0],[555,1.5],[575,0],[600,1.4],[613,0],[630,.8],[652,2.8],[660,2.2],[667,2.8],[675,1.3],[680,.8],[693,2.2],[725,.8],[740,1.4],[750,.8],[838,0],[930,1.9],[938,4.9],[948,3.8],[955,2.8],[985,1.5],[990,2.1],[1018,0],[1030,2.1],[1040,2.8],[1068,1.5],[1082,0],[1110,2.7],[1118,1.5],[1126,3.8],[1133,4.2],[1140,3.5],[1150,1.0],[1158,1.4],[1172,.8],[1185,2.1],[1205,0],[1218,.7],[1250,0],[1280,1.5],[1293,.8],[1300,1.5],[1305,.8],[1312,1.5],[1320,.8],[1327,2.8],[1340,.8],[1352,0],[1365,1.5],[1378,3.5],[1390,1.5],[1408,.8],[1412,1.5],[1420,.5],[1433,0],[1450,4.5],[1455,7.5],[1463,15],[1468,18.2],[1474,18],[1481,20],[1487,10.5],[1493,8.0],[1500,4.0],[1507,5.7],[1514,3.5],[1518,3.0]];
const s729=[[45,2.7],[55,5.0],[65,2.8],[73,3.9],[85,1.3],[108,0],[137,1.3],[150,0],[165,2.6],[187,3.9],[205,1.2],[210,0],[226,2.6],[260,0],[277,6.5],[288,2.6],[300,0],[325,2.4],[337,1.2],[352,0],[375,2.7],[387,3.9],[400,1.5],[410,0],[422,5.0],[433,3.0],[445,0],[460,1.3],[490,0],[525,1.3],[540,0],[565,3.9],[578,0],[590,2.6],[596,1.4],[603,3.9],[612,2.8],[625,0],[643,3.9],[648,2.6],[655,3.9],[673,1.4],[683,3.9],[700,0],[710,1.4],[720,5.5],[726,6.3],[740,0],[760,1.3],[790,0],[820,1.3],[875,0],[930,1.3],[945,2.6],[968,0],[980,1.3],[987,0],[1000,1.3],[1015,0],[1030,2.6],[1040,3.9],[1053,1.3],[1055,0],[1068,1.3],[1105,0],[1140,1.3],[1157,3.9],[1183,0],[1208,1.3],[1217,2.5],[1225,1.3],[1258,0],[1297,1.3],[1307,2.6],[1318,1.3],[1352,0],[1397,1.3],[1428,0],[1450,2.6],[1458,8.0],[1462,10],[1468,18],[1474,15.4],[1480,8],[1488,5.3],[1500,4.0],[1510,1.3],[1518,0]];

const series = [s754,s753,s752,s751,s750,s749,s748,s747,s746,s745,s744,s743,s742,s741,s740,s739,s738,s737,s736,s735,s734,s733,s732,s731,s730,s729];

const NS = "http://www.w3.org/2000/svg";
const X0 = 271, X1 = 1421;
function xScale(b){ return X0 + (b - genomeDomain[0]) / (genomeDomain[1] - genomeDomain[0]) * (X1 - X0); }
function trackTop(i){ return 122 + 153.85 * i; }
const TRACK_H = 139;
function yScale(i, v){ return trackTop(i) + TRACK_H - (v / trackMax[i]) * TRACK_H; }

function mk(tag, attrs){ const e = document.createElementNS(NS, tag); for (const k in attrs) e.setAttribute(k, attrs[k]); return e; }

const tracksG = document.getElementById('tracks');
series.forEach((pts, i) => {
  const g = mk('g', {});
  
  
  const top = trackTop(i), base = top + TRACK_H;
  const label = mk('text', {x: 73, y: top + TRACK_H/2 + 8, 'font-size': 23, textLength: 148, lengthAdjust: 'spacingAndGlyphs', fill: '#000'});
  label.textContent = sampleNames[i];
  
  
  g.appendChild(label);
  const axis = mk('path', {d: `M264 ${top} H270.5 V${base} H264`, stroke: '#555', 'stroke-width': 1.5, fill: 'none'});
  
  
  g.appendChild(axis);
  const tMax = mk('text', {x: 256, y: top + 4, 'font-size': 10, 'text-anchor': 'end', fill: '#333'});
  tMax.textContent = String(trackMax[i]);
  
  
  g.appendChild(tMax);
  const t0 = mk('text', {x: 256, y: base + 4, 'font-size': 10, 'text-anchor': 'end', fill: '#333'});
  t0.textContent = '0';
  
  
  g.appendChild(t0);
  let d = `M${xScale(pts[0][0]).toFixed(1)} ${base}`;
  pts.forEach(p => { d += ` L${xScale(p[0]).toFixed(1)} ${yScale(i, p[1]).toFixed(1)}`; });
  d += ` L${xScale(pts[pts.length-1][0]).toFixed(1)} ${base} Z`;
  const area = mk('path', {d: d, fill: '#0000ff', stroke: '#0000ff', 'stroke-width': 0.6});
  
  
  g.appendChild(area);
  tracksG.appendChild(g);
});

const chevX = [383,423,470,576,614,679,718,757,794,832,871,909,948];
const chevG = document.getElementById('chev');
chevX.forEach(cx => {
  const c = mk('path', {d: `M${cx+9} 4266 L${cx} 4275.5 L${cx+9} 4285`});
  
  
  chevG.appendChild(c);
});

const gt = document.getElementById('gticks');
genomeTicks.forEach((b, k) => {
  const x = xScale(b);
  const l = mk('line', {x1: x, y1: 4448, x2: x, y2: k === 2 ? 4529 : 4480, stroke: '#555', 'stroke-width': 1});
  
  
  gt.appendChild(l);
});
</script>
</body></html>
